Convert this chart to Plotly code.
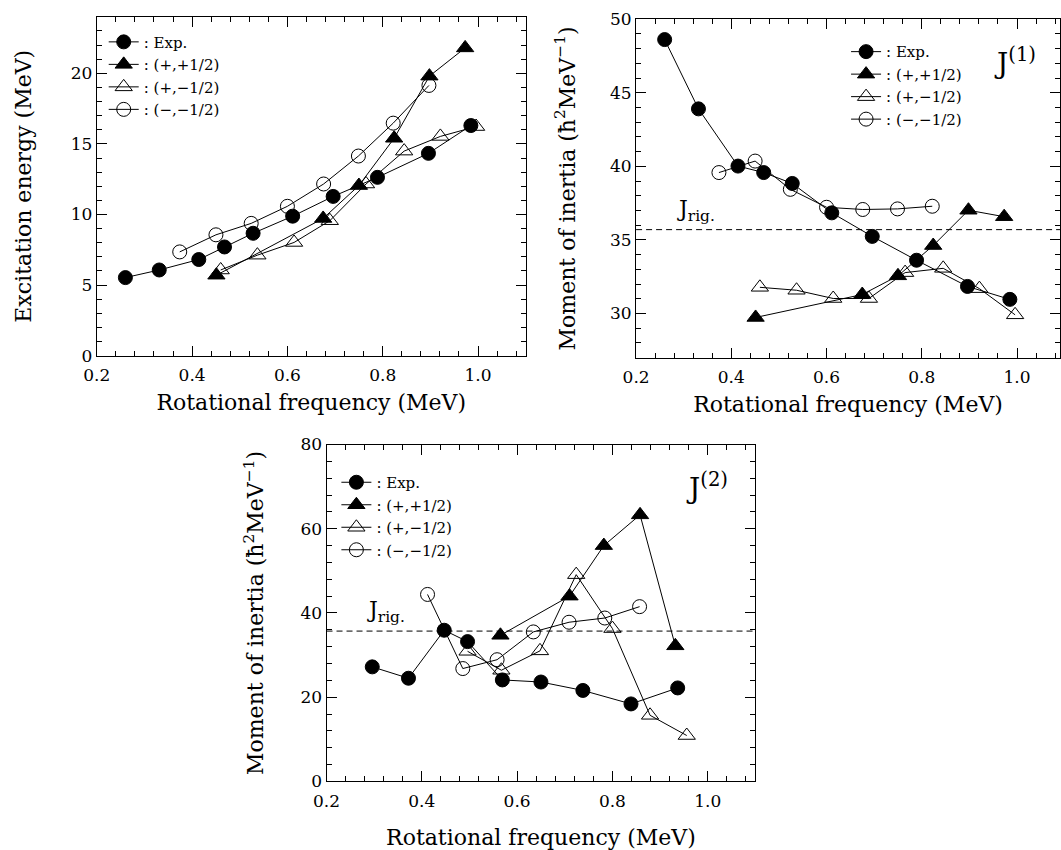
import plotly.graph_objects as go

# ---------------- data ----------------
# Panel 1: excitation energy vs rotational frequency
w_exp = [0.260, 0.331, 0.414, 0.468, 0.528, 0.611, 0.696, 0.789, 0.896, 0.985]
e_exp = [5.53, 6.07, 6.81, 7.70, 8.67, 9.88, 11.28, 12.63, 14.33, 16.30]
w_pp = [0.451, 0.675, 0.750, 0.824, 0.898, 0.973]
e_pp = [5.70, 9.72, 12.05, 15.40, 19.80, 21.80]
w_pm = [0.460, 0.537, 0.614, 0.689, 0.765, 0.845, 0.921, 0.996]
e_pm = [6.07, 7.12, 8.02, 9.56, 12.16, 14.49, 15.53, 16.23]
w_mm = [0.374, 0.450, 0.524, 0.600, 0.676, 0.749, 0.822, 0.897]
e_mm = [7.35, 8.56, 9.37, 10.58, 12.16, 14.14, 16.47, 19.14]

# Panel 2: kinematic moment of inertia J(1)
j1_exp = [48.62, 43.91, 40.02, 39.58, 38.84, 36.84, 35.24, 33.62, 31.84, 30.96]
j1_pp = [29.73, 31.29, 32.56, 34.62, 37.02, 36.58]
j1_pm = [31.78, 31.58, 31.02, 31.02, 32.78, 33.07, 31.69, 29.91]
w1_mm = [0.374, 0.450, 0.524, 0.600, 0.676, 0.749, 0.822]
j1_mm = [39.58, 40.36, 38.44, 37.22, 37.07, 37.11, 37.29]

# Panel 3: dynamic moment of inertia J(2)
w2_exp = [0.296, 0.372, 0.447, 0.496, 0.569, 0.650, 0.738, 0.839, 0.937]
j2_exp = [27.2, 24.5, 35.9, 33.2, 24.1, 23.6, 21.6, 18.4, 22.2]
w2_pp = [0.565, 0.710, 0.782, 0.858, 0.932]
j2_pp = [34.7, 44.0, 56.0, 63.3, 32.2]
w2_pm = [0.496, 0.567, 0.648, 0.724, 0.800, 0.879, 0.956]
j2_pm = [30.9, 26.4, 31.0, 49.1, 36.3, 15.7, 10.9]
w2_mm = [0.412, 0.486, 0.558, 0.634, 0.709, 0.784, 0.857]
j2_mm = [44.4, 26.8, 28.9, 35.5, 37.8, 38.8, 41.5]

J_rig = 35.7

labels = [": Exp.", ": (+,+1/2)", ": (+,\u22121/2)", ": (\u2212,\u22121/2)"]

# ---------------- figure ----------------
W, H = 1061, 850
FONT = "DejaVu Serif"

fig = go.Figure()

styles = [
    dict(symbol="circle", size=14, color="black", line=dict(color="black", width=1)),
    dict(symbol="triangle-up", size=15, color="black", line=dict(color="black", width=1)),
    dict(symbol="triangle-up-open", size=15, color="black", line=dict(color="black", width=1)),
    dict(symbol="circle-open", size=14, color="black", line=dict(color="black", width=1)),
]

panels = [
    ("x", "y", "legend", [(w_exp, e_exp), (w_pp, e_pp), (w_pm, e_pm), (w_mm, e_mm)]),
    ("x2", "y2", "legend2", [(w_exp, j1_exp), (w_pp, j1_pp), (w_pm, j1_pm), (w1_mm, j1_mm)]),
    ("x3", "y3", "legend3", [(w2_exp, j2_exp), (w2_pp, j2_pp), (w2_pm, j2_pm), (w2_mm, j2_mm)]),
]

for xa, ya, lg, series in panels:
    for (xs, ys), st, name in zip(series, styles, labels):
        fig.add_trace(go.Scatter(
            x=xs, y=ys, mode="lines+markers", name=name,
            xaxis=xa, yaxis=ya, legend=lg,
            line=dict(color="black", width=1),
            marker=st,
        ))

def px_dom_x(a, b):
    return [a / W, min(b / W, 1.0)]

def px_dom_y(top, bottom):
    return [1 - bottom / H, 1 - top / H]

axis_common = dict(
    showline=True, linecolor="black", linewidth=1.2, mirror="allticks",
    ticks="inside", ticklen=10, tickwidth=1, tickcolor="black",
    showgrid=False, zeroline=False,
    tickfont=dict(family=FONT, size=17, color="black"),
    title_font=dict(family=FONT, size=22, color="black"),
)
minor_x = dict(dtick=0.04, tick0=0.2, ticks="inside", ticklen=5, tickcolor="black", tickwidth=1, showgrid=False)

xt = "Rotational frequency (MeV)"
yt_j = "Moment of inertia (\u0127<sup>2</sup>MeV<sup>\u22121</sup>)"

fig.update_layout(
    width=W, height=H,
    margin=dict(l=0, r=0, t=0, b=0),
    paper_bgcolor="white", plot_bgcolor="white",
    font=dict(family=FONT, color="black"),
    xaxis=dict(axis_common, domain=px_dom_x(84, 519), range=[0.2, 1.1], dtick=0.2, tick0=0.2,
               tickformat=".1f", minor=minor_x, anchor="y", ticklabelstandoff=4,
               title=dict(text=xt, standoff=10)),
    yaxis=dict(axis_common, domain=px_dom_y(7, 354), range=[0, 24], dtick=5, tick0=0,
               minor=dict(dtick=1, ticks="inside", ticklen=5, tickcolor="black"), anchor="x",
               title=dict(text="Excitation energy (MeV)", standoff=32)),
    xaxis2=dict(axis_common, domain=px_dom_x(631, 1061), range=[0.2, 0.2 + 430 / 483], dtick=0.2, tick0=0.2,
                tickformat=".1f", minor=minor_x, anchor="y2", ticklabelstandoff=4,
                title=dict(text=xt, standoff=10)),
    yaxis2=dict(axis_common, domain=px_dom_y(9.5, 356), range=[27, 50], dtick=5, tick0=0,
                minor=dict(dtick=1, ticks="inside", ticklen=5, tickcolor="black"), anchor="x2",
                title=dict(text=yt_j, standoff=28)),
    xaxis3=dict(axis_common, domain=px_dom_x(317, 752), range=[0.2, 1.1], dtick=0.2, tick0=0.2,
                tickformat=".1f", minor=minor_x, anchor="y3", ticklabelstandoff=4,
                title=dict(text=xt, standoff=20)),
    yaxis3=dict(axis_common, domain=px_dom_y(445, 790), range=[0, 80], dtick=20, tick0=0,
                minor=dict(dtick=4, ticks="inside", ticklen=5, tickcolor="black"), anchor="x3",
                title=dict(text=yt_j, standoff=30)),
    legend=dict(x=91 / W, y=1 - 16 / H, xanchor="left", yanchor="top",
                bgcolor="rgba(0,0,0,0)", font=dict(family=FONT, size=15), tracegroupgap=0),
    legend2=dict(x=844 / W, y=1 - 26 / H, xanchor="left", yanchor="top",
                 bgcolor="rgba(0,0,0,0)", font=dict(family=FONT, size=15), tracegroupgap=0),
    legend3=dict(x=327 / W, y=1 - 467 / H, xanchor="left", yanchor="top",
                 bgcolor="rgba(0,0,0,0)", font=dict(family=FONT, size=15), tracegroupgap=0),
    showlegend=True,
)

# rigid-body reference lines
for xa, ya in [("x2", "y2"), ("x3", "y3")]:
    fig.add_shape(type="line", xref=f"{xa} domain", yref=ya, x0=0, x1=1, y0=J_rig, y1=J_rig,
                  line=dict(color="black", width=1, dash="6px,4px"))

ann_font = dict(family=FONT, size=22, color="black")
fig.add_annotation(x=0.326, y=35.9, xref="x2", yref="y2", text="J<sub>rig.</sub>",
                   showarrow=False, xanchor="center", yanchor="bottom", font=ann_font)
fig.add_annotation(x=0.324, y=36.4, xref="x3", yref="y3", text="J<sub>rig.</sub>",
                   showarrow=False, xanchor="center", yanchor="bottom", font=ann_font)
fig.add_annotation(x=0.995, y=47.1, xref="x2", yref="y2", text="J<sup>(1)</sup>",
                   showarrow=False, xanchor="center", yanchor="middle", font=dict(family=FONT, size=28, color="black"))
fig.add_annotation(x=0.998, y=70.1, xref="x3", yref="y3", text="J<sup>(2)</sup>",
                   showarrow=False, xanchor="center", yanchor="middle", font=dict(family=FONT, size=28, color="black"))

fig.write_html("out.html")
